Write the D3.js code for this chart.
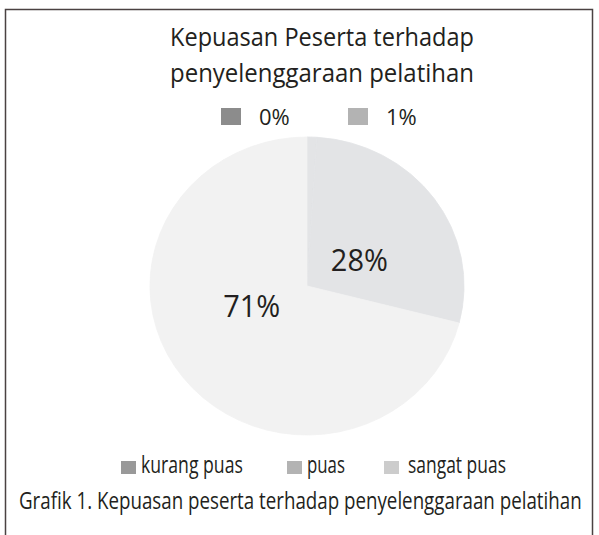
<!DOCTYPE html>
<html lang="id">
  <head>
    <meta charset="UTF-8" />
    <title>Kepuasan Peserta</title>
    <style>
      body {
        margin: 0;
        background: #fff;
      }
      text {
        font-family: "Open Sans", "Noto Sans", sans-serif;
        fill: #231f20;
      }
    </style>
  </head>
  <body>
    <script src="https://d3js.org/d3.v7.min.js"></script>
    <script>
      // pie slices (label = value shown in the chart)
      const sliceNames = ["0%", "1%", "28%", "71%"];
      const sliceValues = [0, 1, 28, 71];
      const sliceColors = ["#8c8c8c", "#e3e4e6", "#e3e4e6", "#f2f2f2"];
      const shownLabels = ["28%", "71%"];

      // legends
      const topLegend = ["0%", "1%"];
      const topLegendColors = ["#8c8c8c", "#b3b3b3"];
      const bottomLegend = ["kurang puas", "puas", "sangat puas"];
      const bottomLegendColors = ["#999999", "#b3b3b3", "#cccccc"];

      const titleLines = [
        "Kepuasan Peserta terhadap",
        "penyelenggaraan pelatihan",
      ];
      const caption =
        "Grafik 1. Kepuasan peserta terhadap penyelenggaraan pelatihan";

      const width = 599;
      const height = 535;

      const svg = d3
        .select("body")
        .append("svg")
        .attr("width", width)
        .attr("height", height);

      // squeeze a text horizontally to a given width (the original font is condensed)
      function fitText(sel, w, anchor) {
        sel.each(function (d, i) {
          const t = d3.select(this);
          const target = typeof w === "function" ? w(d, i) : w;
          const natural = this.getComputedTextLength();
          const sx = Math.min(1, target / natural);
          const x = +t.attr("data-x");
          const y = +t.attr("data-y");
          t.attr("text-anchor", anchor || "start").attr(
            "transform",
            `translate(${x}, ${y}) scale(${sx}, 1)`
          );
        });
      }

      // frame
      svg
        .append("rect")
        .attr("x", 5.5)
        .attr("y", 9.5)
        .attr("width", 587)
        .attr("height", 540)
        .attr("fill", "none")
        .attr("stroke", "#4a4242")
        .attr("stroke-width", 1.5);

      // title
      svg
        .append("g")
        .selectAll("text")
        .data(titleLines)
        .join("text")
        .attr("data-x", 322)
        .attr("data-y", (d, i) => 46 + i * 36)
        .attr("font-size", 26)
        .text((d) => d)
        .call(fitText, 304, "middle");

      // top legend
      const topX = d3.scalePoint().domain(topLegend).range([221, 348]);
      const tl = svg
        .append("g")
        .selectAll("g")
        .data(topLegend)
        .join("g")
        .attr("transform", (d) => `translate(${topX(d)}, 108)`);
      tl.append("rect")
        .attr("width", 20)
        .attr("height", 17)
        .attr("fill", (d, i) => topLegendColors[i]);
      tl.append("text")
        .attr("data-x", 38)
        .attr("data-y", 17)
        .attr("font-size", 22)
        .text((d) => d)
        .call(fitText, 32);

      // pie
      const cx = 307;
      const cy = 286;
      const sx = 1.054;
      const radius = 149;
      const pie = d3
        .pie()
        .sort(null)
        .value((d) => d.value);
      const arcs = pie(
        sliceNames.map((name, i) => ({ name, value: sliceValues[i] }))
      );
      const arc = d3.arc().innerRadius(0).outerRadius(radius);
      const labelArc = d3.arc().innerRadius(52).outerRadius(52);

      const pieG = svg
        .append("g")
        .attr("transform", `translate(${cx}, ${cy}) scale(${sx}, 1)`);
      pieG
        .selectAll("path")
        .data(arcs)
        .join("path")
        .attr("d", arc)
        .attr("fill", (d, i) => sliceColors[i])
        .attr("stroke", (d, i) => sliceColors[i])
        .attr("stroke-width", 0.8);

      const labelNudge = { "28%": [8, 4], "71%": [-12, -12] };
      svg
        .append("g")
        .selectAll("text")
        .data(arcs.filter((d) => shownLabels.includes(d.data.name)))
        .join("text")
        .attr("data-x", (d) => cx + labelArc.centroid(d)[0] * sx + labelNudge[d.data.name][0])
        .attr("data-y", (d) => cy + labelArc.centroid(d)[1] + labelNudge[d.data.name][1])
        .attr("dy", "0.36em")
        .attr("font-size", 31)
        .text((d) => d.data.name)
        .call(fitText, 57, "middle");

      // bottom legend
      const legendPos = [121, 287, 384];
      const legendTextX = [20, 20, 24];
      const legendTextW = [102, 38, 98];
      const bl = svg
        .append("g")
        .selectAll("g")
        .data(bottomLegend)
        .join("g")
        .attr("transform", (d, i) => `translate(${legendPos[i]}, 461)`);
      bl.append("rect")
        .attr("width", 15)
        .attr("height", 13)
        .attr("fill", (d, i) => bottomLegendColors[i]);
      bl.append("text")
        .attr("data-x", (d, i) => legendTextX[i])
        .attr("data-y", 12)
        .attr("font-size", 24)
        .text((d) => d)
        .call(fitText, (d, i) => legendTextW[i]);

      // caption
      svg
        .append("text")
        .attr("data-x", 19)
        .attr("data-y", 509)
        .attr("font-size", 23)
        .text(caption)
        .call(fitText, 563);
    </script>
  </body>
</html>
